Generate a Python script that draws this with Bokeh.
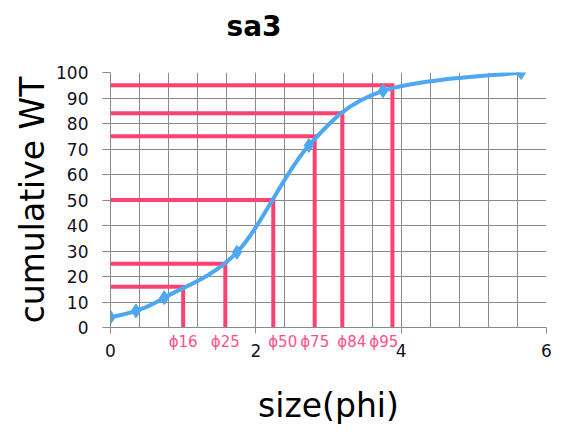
import numpy as np
from bokeh.plotting import figure
from bokeh.models import FixedTicker, Range1d, LinearAxis
from bokeh.embed import file_html
from bokeh.resources import INLINE

# --- data ---
size_phi = [0.0, 0.35, 0.74, 1.74, 2.73, 3.75, 5.65]
cum_wt = [4.0, 6.5, 11.7, 29.5, 71.4, 92.8, 100.0]

pct_levels = [16, 25, 50, 75, 84, 95]
phi_at_pct = [1.00, 1.58, 2.24, 2.81, 3.19, 3.88]
pct_labels = ["ϕ16", "ϕ25", "ϕ50", "ϕ75", "ϕ84", "ϕ95"]
# small horizontal nudges (in phi units) of the ϕ labels so they do not collide
label_nudge = [0.0, 0.0, 0.13, 0.0, 0.13, -0.12]

x_ticks = [0, 2, 4, 6]
y_ticks = list(range(0, 101, 10))

chart_title = "sa3"
title_anchor = 1.975   # horizontal anchor of the title, in phi units

BLUE = "#4ea7f2"
RED = "#ff416f"
PINK = "#ff4f8a"
GRID = "#8a8a8a"
FONT = "DejaVu Sans"

p = figure(width=560, height=427, output_backend="svg", toolbar_location=None,
           x_range=Range1d(0, 6), y_range=Range1d(0, 100),
           min_border_left=110, min_border_right=14, min_border_top=72,
           min_border_bottom=99)
p.outline_line_color = None
p.background_fill_color = "white"

main_x = p.below[0]
yax = p.left[0]

# title drawn as the single label of an invisible axis above the plot
title_axis = LinearAxis(ticker=FixedTicker(ticks=[title_anchor]),
                        major_label_overrides={title_anchor: chart_title},
                        axis_line_color=None, major_tick_line_color=None,
                        minor_tick_line_color=None, major_tick_out=0, major_tick_in=0,
                        major_label_standoff=30, major_label_text_font=FONT,
                        major_label_text_font_size="28px",
                        major_label_text_font_style="bold",
                        major_label_text_color="black")
p.add_layout(title_axis, "above")

# grids
minor = [round(v, 2) for v in np.arange(0, 6.01, 0.4)]
main_x.ticker = FixedTicker(ticks=x_ticks, minor_ticks=minor)
yax.ticker = FixedTicker(ticks=y_ticks)
p.xgrid.grid_line_color = GRID
p.xgrid.minor_grid_line_color = GRID
p.ygrid.grid_line_color = GRID

for ax in (main_x, yax):
    ax.axis_line_color = GRID
    ax.major_tick_line_color = GRID
    ax.minor_tick_line_color = None
    ax.major_tick_in = 0
    ax.major_label_text_font = FONT
    ax.major_label_text_font_size = "17px"
    ax.major_label_text_color = "#111122"

main_x.major_tick_out = 6
main_x.major_label_standoff = 10

yax.major_tick_out = 8
yax.major_label_standoff = 14
yax.axis_label = "cumulative WT"
yax.axis_label_standoff = 1
yax.axis_label_text_font = FONT
yax.axis_label_text_font_size = "33px"
yax.axis_label_text_font_style = "normal"
yax.axis_label_text_color = "black"

# second bottom axis carrying the ϕ percentile labels and the axis title
label_pos = [round(a + b, 3) for a, b in zip(phi_at_pct, label_nudge)]
phi_axis = LinearAxis(ticker=FixedTicker(ticks=label_pos),
                      major_label_overrides={v: s for v, s in zip(label_pos, pct_labels)})
phi_axis.axis_line_color = None
phi_axis.major_tick_line_color = None
phi_axis.minor_tick_line_color = None
phi_axis.major_tick_out = 0
phi_axis.major_tick_in = 0
phi_axis.major_label_standoff = -27
phi_axis.major_label_text_font = FONT
phi_axis.major_label_text_font_size = "15px"
phi_axis.major_label_text_color = PINK
phi_axis.axis_label = "size(phi)"
phi_axis.axis_label_standoff = 32
phi_axis.axis_label_text_font = FONT
phi_axis.axis_label_text_font_size = "33px"
phi_axis.axis_label_text_font_style = "normal"
phi_axis.axis_label_text_color = "black"
p.add_layout(phi_axis, "below")

# percentile guide lines
xs = [[0, ph, ph] for ph in phi_at_pct]
ys = [[pc, pc, 0] for pc in pct_levels]
p.multi_line(xs, ys, line_color=RED, line_width=4, line_join="miter")

# smooth curve (Catmull-Rom -> cubic Bezier) through the data points
px = np.array(size_phi); py = np.array(cum_wt)
n = len(px)
ext_x = np.concatenate([[px[0]], px, [px[-1]]])
ext_y = np.concatenate([[py[0]], py, [py[-1]]])
cx0 = px[:-1] + (ext_x[2:n+1] - ext_x[0:n-1]) / 6
cy0 = py[:-1] + (ext_y[2:n+1] - ext_y[0:n-1]) / 6
cx1 = px[1:] - (ext_x[3:n+2] - ext_x[1:n]) / 6
cy1 = py[1:] - (ext_y[3:n+2] - ext_y[1:n]) / 6
p.bezier(x0=px[:-1], y0=py[:-1], x1=px[1:], y1=py[1:], cx0=cx0, cy0=cy0, cx1=cx1, cy1=cy1,
         line_color=BLUE, line_width=4)
p.scatter(size_phi, cum_wt, marker="diamond", size=14, fill_color=BLUE, line_color=BLUE)

open("out.html", "w").write(file_html(p, INLINE))
